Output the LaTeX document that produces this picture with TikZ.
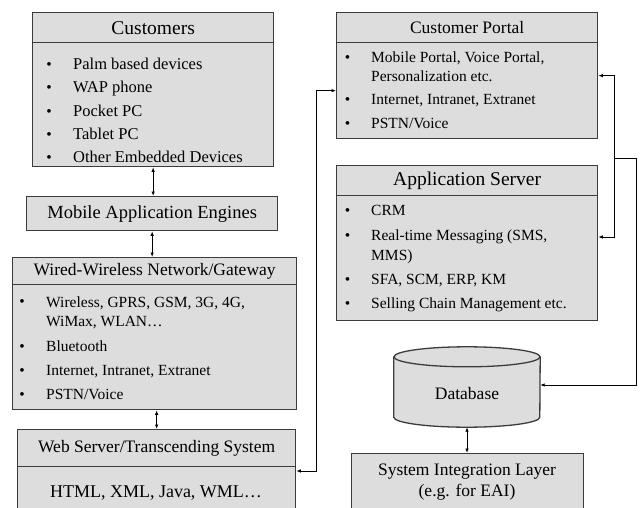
\documentclass[tikz,border=0pt]{standalone}
\usepackage{fontspec}
\setmainfont{Liberation Serif}
\usetikzlibrary{arrows.meta}
\definecolor{boxgray}{RGB}{221,221,221}
\definecolor{edgegray}{RGB}{60,60,60}
\tikzset{
  box/.style={draw=edgegray, line width=1.3pt, fill=boxgray, inner sep=0pt, anchor=north west},
  hdr/.style={box, font=\fontsize{#1}{21}\selectfont},
  hdr/.default=17.5,
  itm/.style={anchor=base west, inner sep=0pt, align=left, font=\fontsize{#1}{19.5}\selectfont},
  itm/.default=15.5,
  bul/.style={anchor=base, inner sep=0pt, font=\fontsize{15.5}{19}\selectfont},
  big/.style={anchor=base, inner sep=0pt, align=center, font=\fontsize{#1}{21}\selectfont},
  big/.default=17.5,
  link/.style={{Latex[length=4.5pt,width=3.5pt]}-{Latex[length=4.5pt,width=3.5pt]}, line width=0.8pt},
  feed/.style={-{Latex[length=4.5pt,width=3.5pt]}, line width=0.8pt}
}
\begin{document}
\begin{tikzpicture}[x=1pt,y=-1pt]
\useasboundingbox (0,0) rectangle (640,508);

% Customers
\node[hdr=19.5, minimum width=241, minimum height=30] (cust) at (32,12) {Customers};
\node[box, minimum width=241, minimum height=124] (custlist) at (32,42) {};
\node[bul] at (49,69.3) {\textbullet};
\node[itm=16.5] (cust1) at (73,69.3) {Palm based devices};
\node[bul] at (49,92.8) {\textbullet};
\node[itm=16.5] (cust2) at (73,92.8) {WAP phone};
\node[bul] at (49,116.5) {\textbullet};
\node[itm=16.5] (cust3) at (73,116.5) {Pocket PC};
\node[bul] at (49,140) {\textbullet};
\node[itm=16.5] (cust4) at (73,140) {Tablet PC};
\node[bul] at (49,163) {\textbullet};
\node[itm=16.5] (cust5) at (73,163) {Other Embedded Devices};

% Mobile Application Engines
\node[hdr=18.5, minimum width=251, minimum height=34] (engines) at (26,196) {Mobile Application Engines};

% Wired-Wireless Network/Gateway
\node[hdr, minimum width=284, minimum height=27] (wired) at (12,257) {Wired-Wireless Network/Gateway};
\node[box, minimum width=284, minimum height=125] (wiredlist) at (12,284) {};
\node[bul] at (22,306) {\textbullet};
\node[itm] (wired1) at (46,326.7) {Wireless, GPRS, GSM, 3G, 4G,\\WiMax, WLAN\dots};
\node[bul] at (22,351) {\textbullet};
\node[itm] (wired2) at (46,351) {Bluetooth};
\node[bul] at (22,375) {\textbullet};
\node[itm] (wired3) at (46,375) {Internet, Intranet, Extranet};
\node[bul] at (22,399) {\textbullet};
\node[itm] (wired4) at (46,399) {PSTN/Voice};

% Web Server/Transcending System
\node[hdr, minimum width=278, minimum height=37] (web) at (17,429) {Web Server/Transcending System};
\node[box, minimum width=278, minimum height=50] (webbody) at (17,466) {};
\node[big=18] (webtxt) at (156,497) {HTML, XML, Java, WML\dots};

% Customer Portal
\node[hdr, minimum width=261, minimum height=30] (portal) at (336,12) {Customer Portal};
\node[box, minimum width=261, minimum height=96] (portallist) at (336,42) {};
\node[bul] at (347.5,62.7) {\textbullet};
\node[itm] (portal1) at (371,81.7) {Mobile Portal, Voice Portal,\\Personalization etc.};
\node[bul] at (347.5,105) {\textbullet};
\node[itm] (portal2) at (371,105) {Internet, Intranet, Extranet};
\node[bul] at (347.5,128.3) {\textbullet};
\node[itm] (portal3) at (371,128.3) {PSTN/Voice};

% Application Server
\node[hdr=19.5, minimum width=261, minimum height=30] (app) at (336,165) {Application Server};
\node[box, minimum width=261, minimum height=125] (applist) at (336,195) {};
\node[bul] at (347.5,215.7) {\textbullet};
\node[itm] (app1) at (371,215.7) {CRM};
\node[bul] at (347.5,240) {\textbullet};
\node[itm] (app2) at (371,260) {Real-time Messaging (SMS,\\MMS)};
\node[bul] at (347.5,284.3) {\textbullet};
\node[itm] (app3) at (371,284.3) {SFA, SCM, ERP, KM};
\node[bul] at (347.5,308) {\textbullet};
\node[itm] (app4) at (371,308) {Selling Chain Management etc.};

% Database
\node[minimum width=146, minimum height=80, inner sep=0pt] (db) at (467,387) {};
\path[fill=boxgray, draw=edgegray, line width=1.3pt] ([yshift=-10pt]db.north west)
  -- ([yshift=10pt]db.south west)
  arc[start angle=180, end angle=360, x radius=73pt, y radius=10pt]
  -- ([yshift=-10pt]db.north east);
\draw[fill=boxgray, draw=edgegray, line width=1.3pt] ([yshift=-10pt]db.north)
  ellipse [x radius=73pt, y radius=10pt];
\node[big] (dbtxt) at (467,399.3) {Database};

% System Integration Layer
\node[box, minimum width=232, minimum height=62] (sil) at (351,453) {};
\node[big] (siltxt) at (467,496.7) {System Integration Layer\\(e.g. for EAI)};

% Left column links
\draw[link] (custlist.south) -- (custlist.south |- engines.north);
\draw[link] (engines.south) -- (engines.south |- wired.north);
\draw[link] ([xshift=2pt]wiredlist.south) -- ([xshift=2pt]wiredlist.south |- web.north);

% Web server to portal
\coordinate (wp) at (316,0);
\draw[link] ([yshift=-5pt]webbody.north east) -- ([yshift=-5pt]webbody.north east -| wp)
  -- (wp |- portallist.west) -- (portallist.west);

% Portal and application server bracket
\coordinate (rb) at (614,0);
\draw[link] ([yshift=15pt]portallist.east) -- ([yshift=15pt]portallist.east -| rb)
  -- (rb |- 0,237) -- (applist.east |- 0,237);

% Bracket to database
\coordinate (br) at (614,158);
\coordinate (dbturn) at (636,0);
\draw[feed] (br) -- (br -| dbturn) -- (dbturn |- 0,385) -- (db.east |- 0,385);

% Database to integration layer
\draw[link] (db.south) -- (db.south |- sil.north);
\end{tikzpicture}
\end{document}
